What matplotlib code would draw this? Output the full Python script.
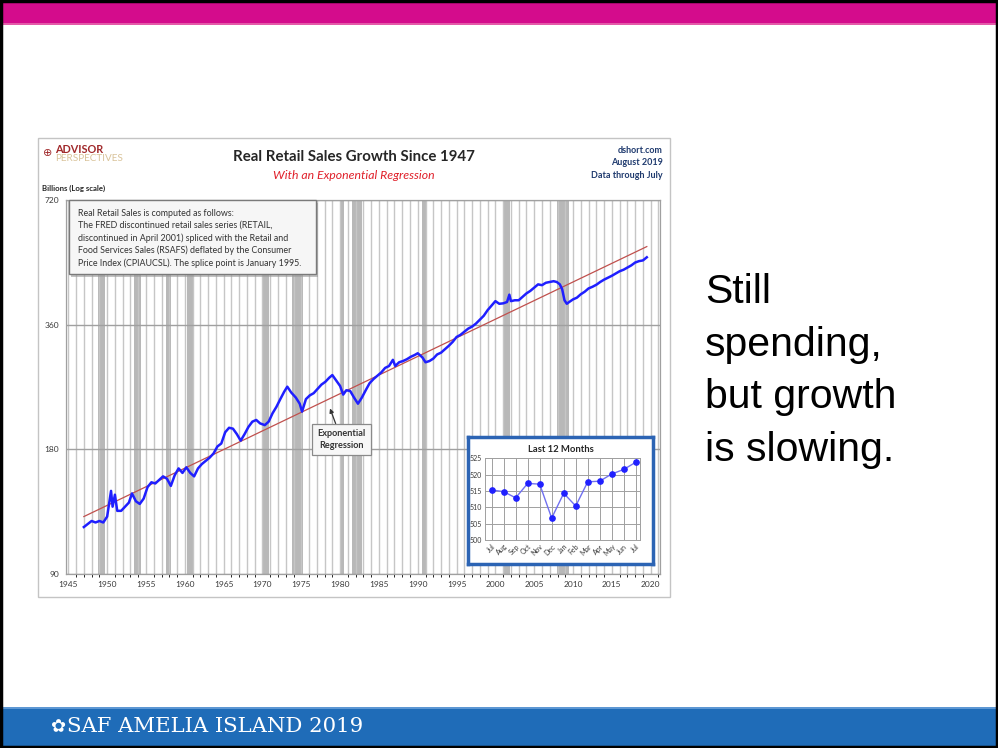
import matplotlib
matplotlib.use("Agg")
import matplotlib.pyplot as plt
from matplotlib.patches import Rectangle
from matplotlib.ticker import FixedLocator, MultipleLocator, NullLocator, FixedFormatter

# ---- Real retail sales, billions (log scale) ----
years = [1947.0, 1947.5, 1948.0, 1948.5, 1949.0, 1949.5, 1950.0, 1950.5, 1950.7, 1951.0,
         1951.3, 1951.8, 1952.3, 1952.8, 1953.2, 1953.7, 1954.2, 1954.7, 1955.2, 1955.7,
         1956.2, 1956.7, 1957.2, 1957.7, 1958.2, 1958.7, 1959.2, 1959.7, 1960.2, 1960.7,
         1961.2, 1961.7, 1962.2, 1962.7, 1963.2, 1963.7, 1964.2, 1964.7, 1965.2, 1965.7,
         1966.2, 1966.7, 1967.2, 1967.7, 1968.2, 1968.7, 1969.2, 1969.7, 1970.3, 1970.8,
         1971.3, 1971.8, 1972.3, 1972.8, 1973.2, 1973.7, 1974.3, 1974.8, 1975.1, 1975.6,
         1976.1, 1976.6, 1977.1, 1977.6, 1978.1, 1978.6, 1979.0, 1979.5, 1980.0, 1980.4,
         1980.8, 1981.3, 1981.8, 1982.3, 1982.8, 1983.3, 1983.8, 1984.3, 1984.8, 1985.3,
         1985.8, 1986.3, 1986.8, 1987.1, 1987.6, 1988.1, 1988.6, 1989.1, 1989.6, 1990.0,
         1990.6, 1991.0, 1991.5, 1992.0, 1992.5, 1993.0, 1993.5, 1994.0, 1994.5, 1995.0,
         1995.5, 1996.0, 1996.5, 1997.0, 1997.5, 1998.0, 1998.5, 1999.0, 1999.5, 2000.0,
         2000.5, 2001.0, 2001.5, 2001.8, 2002.0, 2002.5, 2003.0, 2003.5, 2004.0, 2004.5,
         2005.0, 2005.5, 2006.0, 2006.5, 2007.0, 2007.5, 2007.9, 2008.3, 2008.6, 2008.9,
         2009.2, 2009.5, 2010.0, 2010.5, 2011.0, 2011.5, 2012.0, 2012.5, 2013.0, 2013.5,
         2014.0, 2014.5, 2015.0, 2015.5, 2016.0, 2016.5, 2017.0, 2017.5, 2018.0, 2018.5,
         2019.0, 2019.5]
sales = [117, 119, 121, 120, 121, 120, 124, 143, 131, 140,
         128, 128, 131, 134, 141, 135, 133, 137, 146, 150,
         149, 152, 155, 153, 147, 156, 162, 158, 163, 158,
         155, 162, 166, 169, 172, 176, 183, 186, 198, 203,
         202, 196, 189, 196, 204, 210, 212, 208, 206, 210,
         220, 228, 238, 248, 255, 247, 240, 232, 222, 238,
         243, 246, 252, 258, 262, 268, 272, 264, 256, 244,
         250, 249, 240, 232, 240, 250, 260, 266, 271, 276,
         283, 286, 296, 286, 292, 294, 297, 301, 304, 307,
         300, 292, 294, 298, 305, 308, 314, 320, 327, 336,
         340, 346, 352, 356, 362, 370, 378, 390, 400, 410,
         404, 405, 408, 425, 410, 412, 412, 420, 428, 434,
         442, 450, 448, 454, 456, 458, 456, 450, 438, 412,
         404, 408, 414, 418, 426, 432, 440, 444, 449, 456,
         462, 467, 472, 478, 484, 488, 494, 500, 508, 512,
         514, 523]

# Exponential regression (straight on the log axis)
reg_years = [1947.0, 2019.5]
reg_values = [124, 555]

# NBER recessions (start, end)
recessions = [(1948.83, 1949.75), (1953.50, 1954.33), (1957.58, 1958.25),
              (1960.25, 1961.08), (1969.92, 1970.83), (1973.83, 1975.17),
              (1980.00, 1980.50), (1981.50, 1982.83), (1990.50, 1991.17),
              (2001.17, 2001.83), (2007.92, 2009.42)]

x_ticks = list(range(1945, 2021, 5))
y_ticks = [90, 180, 360, 720]

# Last 12 months inset
last12_labels = ["Jul", "Aug", "Sep", "Oct", "Nov", "Dec", "Jan", "Feb",
                 "Mar", "Apr", "May", "Jun", "Jul"]
last12_values = [515.3, 514.8, 512.9, 517.3, 517.1, 506.7, 514.3, 510.4,
                 517.8, 518.0, 520.2, 521.6, 523.8]
last12_ticks = [500, 505, 510, 515, 520, 525]

note_lines = ["Real Retail Sales is computed as follows:",
              "The FRED discontinued retail sales series (RETAIL,",
              "discontinued in April 2001) spliced with the Retail and",
              "Food Services Sales (RSAFS) deflated by the Consumer",
              "Price Index (CPIAUCSL). The splice point is January 1995."]

slide_lines = ["Still", "spending,", "but growth", "is slowing."]

W, H = 998, 748
CHART_FONT = ["Lato", "DejaVu Sans"]
fig = plt.figure(figsize=(W / 100, H / 100), dpi=100)


def frac(x0, y0, x1, y1):
    return [x0 / W, 1 - y1 / H, (x1 - x0) / W, (y1 - y0) / H]


# ---- slide background ----
bg = fig.add_axes([0, 0, 1, 1], zorder=0)
bg.set_xlim(0, W)
bg.set_ylim(H, 0)
bg.axis("off")
bg.add_patch(Rectangle((0, 3), W, 22, color="#d40c8c", lw=0))
bg.add_patch(Rectangle((0, 23), W, 2, color="#e45aa9", lw=0))
bg.add_patch(Rectangle((0, 707), W, 39, color="#1f6cb8", lw=0))
bg.add_patch(Rectangle((0, 707), W, 1.5, color="#5d97d3", lw=0))
bg.add_patch(Rectangle((38, 138), 632, 459, fc="white", ec="#c4c4c4", lw=1))

# chart header
bg.text(354, 157, "Real Retail Sales Growth Since 1947", ha="center", va="center",
        fontsize=10.8, fontweight="bold", color="#262626", family=CHART_FONT)
bg.text(354, 175, "With an Exponential Regression", ha="center", va="center",
        fontsize=8.8, style="italic", color="#e0202a", family=CHART_FONT)
for i, s in enumerate(["dshort.com", "August 2019", "Data through July"]):
    bg.text(663, 150 + 12.5 * i, s, ha="right", va="center", fontsize=6.5,
            fontweight="bold", color="#1f3a6e", family=CHART_FONT)
bg.text(42, 188, "Billions (Log scale)", ha="left", va="center", fontsize=5.6,
        fontweight="bold", color="#262626", family=CHART_FONT)
bg.text(48, 153, "\u2295", ha="center", va="center", fontsize=8, color="#a0282a")
bg.text(55, 149.5, "ADVISOR", ha="left", va="center", fontsize=7.8,
        fontweight="bold", color="#a0282a", family=CHART_FONT)
bg.text(55, 158.5, "PERSPECTIVES", ha="left", va="center", fontsize=7.2,
        color="#d9c39a", family=CHART_FONT)

# slide text
for i, s in enumerate(slide_lines):
    bg.text(705, 303 + 52.5 * i, s, ha="left", va="baseline", fontsize=29.5,
            color="black", family="Liberation Sans")
bg.text(50, 727, "\u273F", ha="left", va="center", fontsize=13, color="white")
bg.text(67, 727, "SAF AMELIA ISLAND 2019", ha="left", va="center", fontsize=15.3,
        color="white", family="DejaVu Serif")

# ---- main chart ----
ax = fig.add_axes(frac(66, 199.7, 660, 574.3), zorder=1)
ax.set_yscale("log")
ax.set_ylim(90, 720)
ax.set_xlim(1944.7, 2021.2)
for a, b in recessions:
    ax.axvspan(a, b, color="#b8b8b8", lw=0, zorder=0)
ax.xaxis.set_major_locator(FixedLocator(x_ticks))
ax.xaxis.set_minor_locator(MultipleLocator(1))
ax.yaxis.set_major_locator(FixedLocator(y_ticks))
ax.yaxis.set_major_formatter(FixedFormatter([str(v) for v in y_ticks]))
ax.yaxis.set_minor_locator(NullLocator())
ax.grid(axis="x", which="both", color="#c6c6c6", lw=1.0, zorder=0.5)
ax.grid(axis="y", which="major", color="#a0a0a0", lw=1.0, zorder=0.5)
ax.set_axisbelow(True)
for sp in ax.spines.values():
    sp.set_color("#a0a0a0")
    sp.set_linewidth(0.9)
ax.tick_params(length=0, labelsize=6, labelcolor="#3a3a3a", pad=5)
for lab in ax.get_xticklabels() + ax.get_yticklabels():
    lab.set_family(CHART_FONT)
ax.plot(reg_years, reg_values, color="#c0504d", lw=0.9, zorder=2)
ax.plot(years, sales, color="#1f1fff", lw=1.8, zorder=3)
ax.annotate("Exponential\nRegression", xy=(1978.7, 226), xytext=(1980.2, 190),
            ha="center", va="center", fontsize=6.6, fontweight="bold",
            color="#333333", family=CHART_FONT, linespacing=1.45, zorder=5,
            bbox=dict(boxstyle="square,pad=0.55", fc="#f7f7f7", ec="#8a8a8a", lw=0.9),
            arrowprops=dict(arrowstyle="-|>", color="#333333", lw=0.9,
                            mutation_scale=6, shrinkA=0, shrinkB=0))

# ---- overlay: note box and border ----
fg = fig.add_axes([0, 0, 1, 1], zorder=3)
fg.set_xlim(0, W)
fg.set_ylim(H, 0)
fg.axis("off")
fg.patch.set_alpha(0)
fg.add_patch(Rectangle((71.5, 202.5), 247, 74, fc="#9a9a9a", lw=0, alpha=0.6))
fg.add_patch(Rectangle((69, 200), 247, 74, fc="#f6f6f6", ec="#7a7a7a", lw=1))
for i, s in enumerate(note_lines):
    fg.text(78, 213 + 12.5 * i, s, ha="left", va="center", fontsize=6.4,
            color="#333333", family=CHART_FONT)
fg.add_patch(Rectangle((1.2, 1.2), W - 2.4, H - 2.4, fill=False, ec="black", lw=2.5))

# ---- inset: last 12 months ----
box = fig.add_axes(frac(468, 437, 653, 564), zorder=4)
box.set_xticks([])
box.set_yticks([])
box.set_facecolor("white")
for sp in box.spines.values():
    sp.set_color("#2c64b4")
    sp.set_linewidth(2.5)
box.text(0.5, 0.9, "Last 12 Months", transform=box.transAxes, ha="center",
         va="center", fontsize=6.8, fontweight="bold", color="#262626",
         family=CHART_FONT)

ins = fig.add_axes(frac(485, 458.3, 640, 540), zorder=5)
xpos = list(range(len(last12_values)))
ins.plot(xpos, last12_values, color="#7070f0", lw=1.0, zorder=3)
ins.plot(xpos, last12_values, ls="none", marker="o", ms=3.8, color="#2020ff", zorder=4)
ins.set_xlim(-0.55, 12.35)
ins.set_ylim(500, 525)
ins.set_yticks(last12_ticks)
ins.set_xticks(xpos)
ins.set_xticklabels(last12_labels, rotation=45, ha="right", rotation_mode="anchor")
ins.grid(True, color="#a0a0a0", lw=0.7)
ins.set_axisbelow(True)
for sp in ins.spines.values():
    sp.set_color("#a0a0a0")
    sp.set_linewidth(0.7)
ins.tick_params(length=0, labelsize=5, labelcolor="#3a3a3a", pad=2)
for lab in ins.get_xticklabels() + ins.get_yticklabels():
    lab.set_family(CHART_FONT)

fig.savefig("out.png", dpi=100)
